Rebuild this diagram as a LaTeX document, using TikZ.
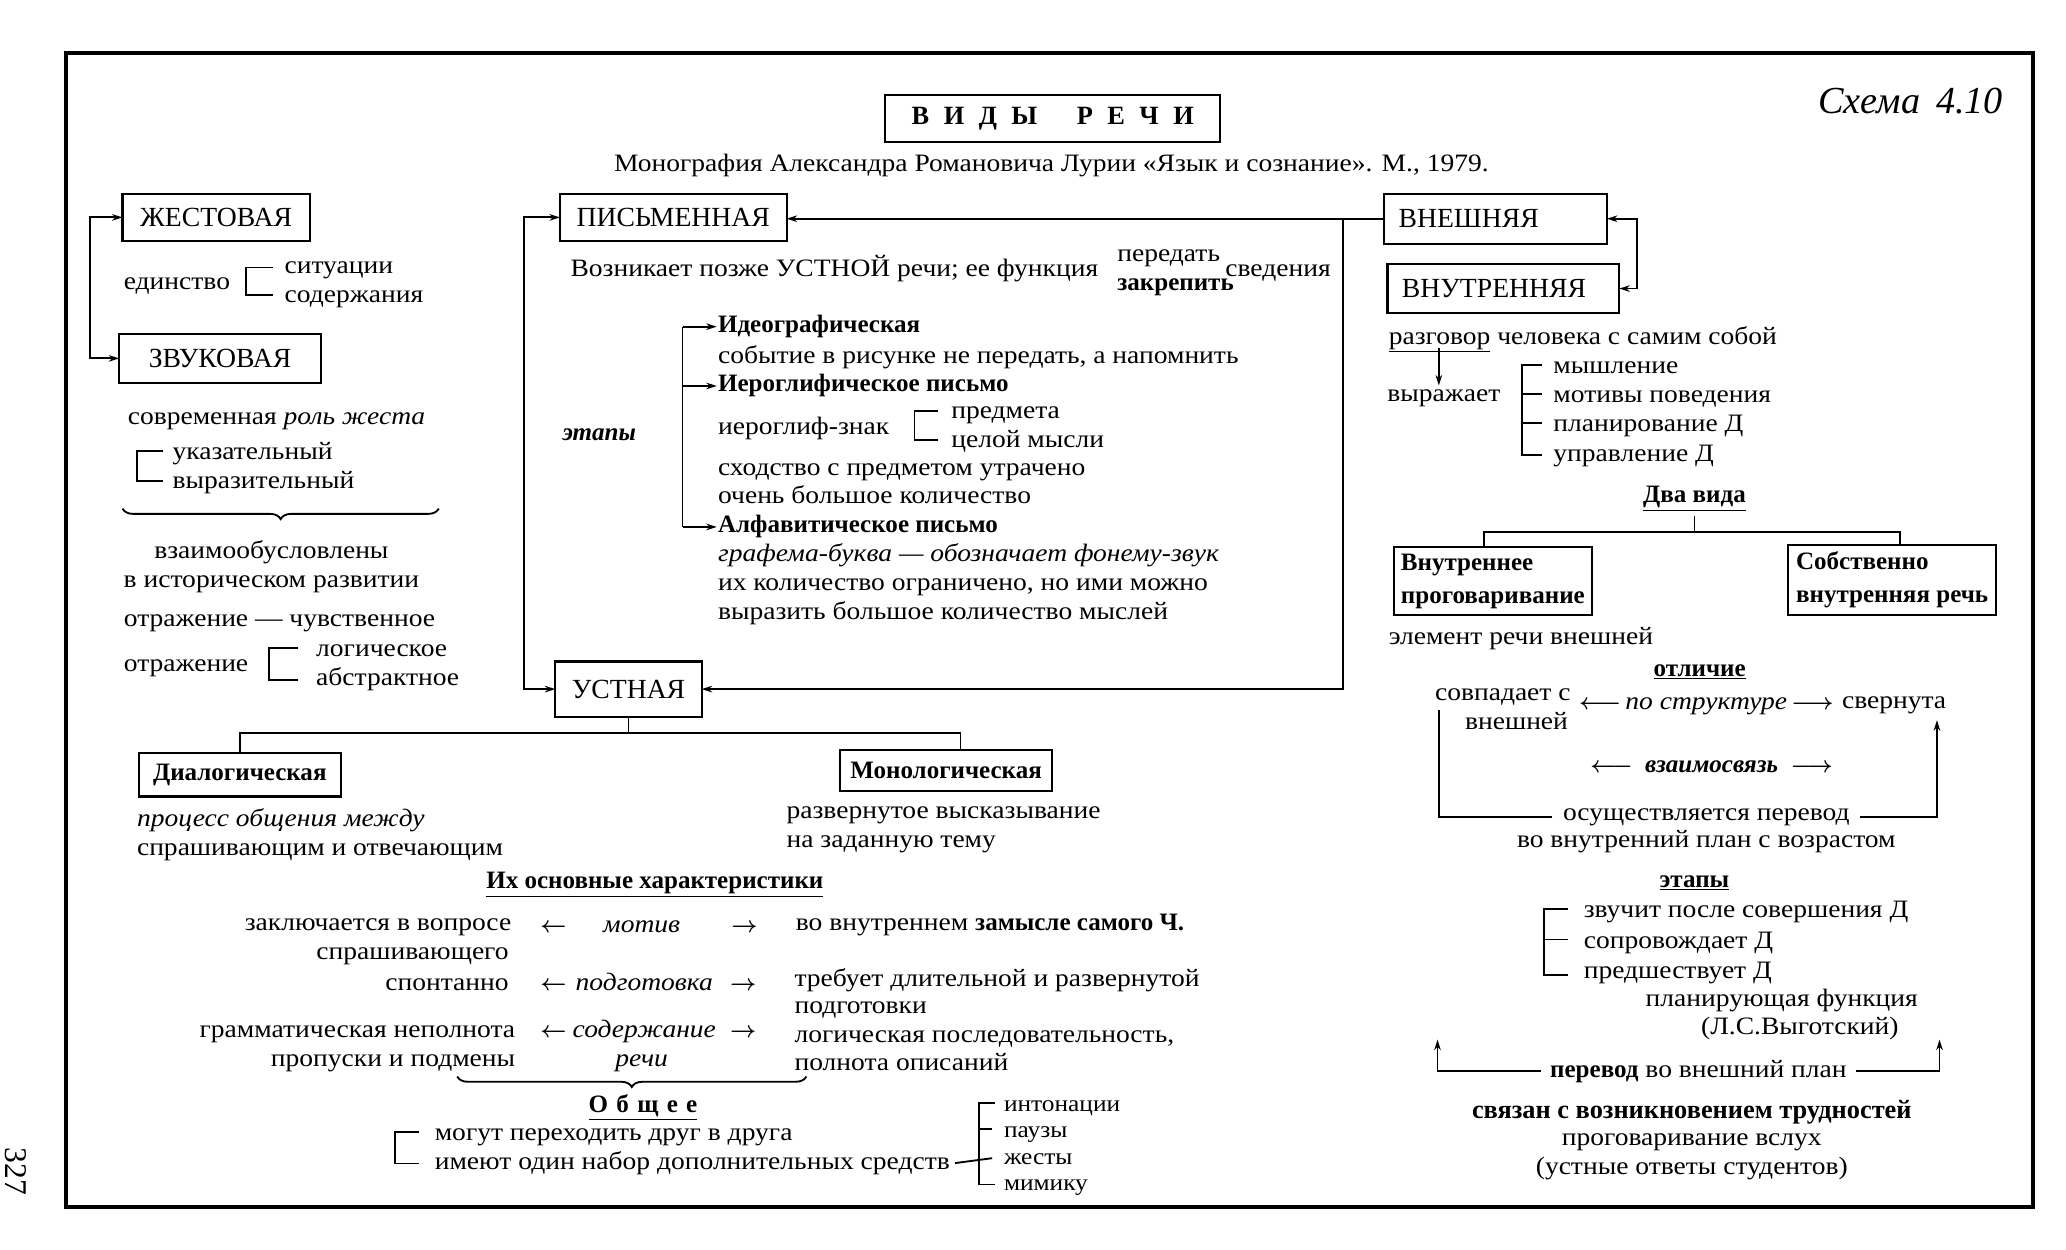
\documentclass[tikz,border=0pt]{standalone}
\usepackage{fontspec}
\setmainfont{Liberation Serif}
\newfontfamily\regf{Liberation Serif}[FakeStretch=1.1]
\usetikzlibrary{arrows.meta,decorations.pathreplacing}
\newcommand\bodyf{\regf\fontsize{19}{22}\selectfont}
\newcommand\listf{\regf\fontsize{17.5}{19}\selectfont}
\newcommand\bff{\normalfont\fontsize{19}{22}\selectfont\bfseries}
\newcommand\boxf{\fontsize{21}{24}\selectfont}
\newcommand\ls{\hspace{11pt}}
\newcommand\la{{\boldmath$\leftarrow$}}
\newcommand\ra{{\boldmath$\rightarrow$}}
\newcommand\lla{{\boldmath$\longleftarrow$}}
\newcommand\lra{{\boldmath$\longrightarrow$}}
\begin{document}
\begin{tikzpicture}[x=1pt,y=-1pt,
  every node/.style={inner sep=0pt, outer sep=0pt},
  t/.style={anchor=base west, yshift=-6.5pt, font=\bodyf},
  tc/.style={anchor=base, yshift=-6.5pt, font=\bodyf},
  tr/.style={anchor=base east, yshift=-6.5pt, font=\bodyf},
  tb/.style={anchor=base west, yshift=-6.5pt, font=\bff},
  tbc/.style={anchor=base, yshift=-6.5pt, font=\bff},
  box/.style={draw, line width=1.6pt, font=\boxf},
  lbox/.style={draw, line width=1.6pt, font=\boxf, inner xsep=11pt, align=left},
  bbox/.style={draw, line width=1.6pt, font=\bff},
  ln/.style={line width=1.4pt},
  arr/.style={ln, -{Stealth[length=8pt,width=5pt]}},
  darr/.style={ln, {Stealth[length=8pt,width=5pt]}-{Stealth[length=8pt,width=5pt]}},
  brc/.style={ln, decorate, decoration={brace, mirror, amplitude=8pt}}
]
\useasboundingbox (0,0) rectangle (1568,948);
\fill[white] (0,0) rectangle (1568,948);
% frame
\draw[line width=2.8pt] (50,40) rectangle (1543,916);
\node[font=\fontsize{24}{26}\selectfont, rotate=-90] (pn) at (12,889) {327};
% title
\node[draw, line width=1.6pt, minimum width=254pt, minimum height=36pt, font=\fontsize{20}{22}\selectfont\bfseries] (title) at (799,90) {В\ls И\ls Д\ls Ы\hspace{30pt}Р\ls Е\ls Ч\ls И};
\node[tc] (sub) at (798,124) {Монография Александра Романовича Лурии «Язык и сознание». М., 1979.};
\node[font=\fontsize{29}{31}\selectfont\itshape] (schema) at (1450,77) {Схема\, 4.10};

% ---------- left column
\node[box, minimum width=142pt, minimum height=36pt] (zhest) at (164,165) {ЖЕСТОВАЯ};
\node[box, minimum width=153pt, minimum height=37pt] (zvuk) at (167,272) {ЗВУКОВАЯ};
\draw[darr] (zhest.west) -- ++(-25,0) |- (zvuk.west);
\node[t] (edin) at (94,213) {единство};
\node[t] (sit) at (216,201) {ситуации};
\node[t] (sod) at (216,223) {содержания};
\draw[ln] (207,203) -- (187,203) -- (187,224) -- (207,224);
\node[t] (sovr) at (97,316) {современная \textit{роль жеста}};
\node[t] (ukaz) at (131,342) {указательный};
\node[t] (vyraz) at (131,364) {выразительный};
\draw[ln] (124,342) -- (104,342) -- (104,365) -- (124,365);
\draw[brc] (93,386) -- (333,386);
\node[tc] (vzaim) at (206,417) {взаимообусловлены};
\node[tc] (vist) at (206,439) {в историческом развитии};
\node[t] (otr1) at (94,469) {отражение — чувственное};
\node[t] (otr2) at (94,503) {отражение};
\node[t] (logi) at (240,492) {логическое};
\node[t] (abstr) at (240,514) {абстрактное};
\draw[ln] (226,492) -- (204,492) -- (204,516) -- (226,516);

% ---------- middle column
\node[box, minimum width=172pt, minimum height=36pt] (pism) at (511,165) {ПИСЬМЕННАЯ};
\node[box, minimum width=111pt, minimum height=42pt] (ustn) at (477,523) {УСТНАЯ};
\draw[darr] (pism.west) -- ++(-27,0) |- (ustn.west);
\node[t] (voz) at (433,203) {Возникает позже УСТНОЙ речи; ее функция};
\node[t] (pered) at (848,192) {передать};
\node[tb] (zakr) at (848,214) {закрепить};
\node[t] (sved) at (930,203) {сведения};
\node[tb, font=\bff\itshape] (etapy) at (427,328) {этапы};
\node[tb] (ideo) at (545,246) {Идеографическая};
\node[t] (sob) at (545,269) {событие в рисунке не передать, а напомнить};
\node[tb] (ierog) at (545,291) {Иероглифическое письмо};
\node[t] (iznak) at (545,323) {иероглиф-знак};
\node[t] (predm) at (722,311) {предмета};
\node[t] (celoy) at (722,333) {целой мысли};
\draw[ln] (712,312) -- (694,312) -- (694,334) -- (712,334);
\node[t] (shod) at (545,354) {сходство с предметом утрачено};
\node[t] (ochen) at (545,376) {очень большое количество};
\node[tb] (alf) at (545,398) {Алфавитическое письмо};
\node[t] (graf) at (545,420) {\textit{графема-буква — обозначает фонему-звук}};
\node[t] (ikol) at (545,442) {их количество ограничено, но ими можно};
\node[t] (vyrm) at (545,464) {выразить большое количество мыслей};
\draw[ln] ([xshift=-27]ideo.west) -- ([xshift=-27]alf.west);
\draw[arr] ([xshift=-27]ideo.west) -- ([xshift=-1]ideo.west);
\draw[arr] ([xshift=-27]ierog.west) -- ([xshift=-1]ierog.west);
\draw[arr] ([xshift=-27]alf.west) -- ([xshift=-1]alf.west);

% ---------- right column
\node[lbox, minimum width=169pt, minimum height=38pt, text width=147pt] (vnesh) at (1135,166) {ВНЕШНЯЯ};
\node[lbox, minimum width=176pt, minimum height=37pt, text width=154pt] (vnutr) at (1141,219) {ВНУТРЕННЯЯ};
\draw[darr] (vnesh.east) -- ++(23,0) |- (vnutr.east);
\draw[arr] (vnesh.west) -- (pism.east |- vnesh.west);
\coordinate (br) at (1019,166);
\draw[arr] (br) |- (ustn.east);
\node[t] (razg) at (1054,255) {\underline{разговор} человека с самим собой};
\node[t] (vyrazh) at (1053,298) {выражает};
\draw[arr] (1092,264) -- ([xshift=39,yshift=3]vyrazh.north west);
\node[t] (mysh) at (1179,277) {мышление};
\node[t] (motiv) at (1179,299) {мотивы поведения};
\node[t] (plan) at (1179,321) {планирование Д};
\node[t] (upr) at (1179,344) {управление Д};
\draw[ln] (1170,277) -- (1155,277) -- (1155,345) -- (1170,345);
\draw[ln] (1155,299) -- (1170,299);
\draw[ln] (1155,321) -- (1170,321);
\node[tbc] (dva) at (1286,375) {\underline{Два вида}};
\node[bbox, minimum width=150pt, minimum height=52pt, align=left] (vnpr) at (1133,441) {Внутреннее\\[3pt]проговаривание};
\node[bbox, minimum width=158pt, minimum height=53pt, align=left] (sobst) at (1436,440) {Собственно\\[3pt]внутренняя речь};
\draw[ln] (dva.south) ++(0,4) -- ++(0,12) coordinate (dvaj);
\draw[ln] ([xshift=-7]vnpr.north) |- (dvaj) -| ([xshift=6]sobst.north);
\node[t] (elem) at (1054,483) {элемент речи внешней};
\node[tbc] (otl) at (1290,507) {\underline{отличие}};
\node[tr] (sovp) at (1192,525) {совпадает с};
\node[tr] (vnshy) at (1190,547) {внешней};
\node[tc] (postr) at (1295,532) {\lla\,\textit{по структуре}\,\lra};
\node[t] (sver) at (1398,531) {свернута};
\node[tc] (vzs) at (1299,580) {\lla\enspace{\bff\itshape взаимосвязь}\enspace\lra};
\node[tc] (osus) at (1295,616) {осуществляется перевод};
\draw[ln] ([xshift=-8]osus.west) -| ([xshift=3,yshift=-4]sovp.south west);
\draw[arr] ([xshift=8]osus.east) -| ([xshift=-7,yshift=-5]sver.south east);
\node[tc] (vovn) at (1295,637) {во внутренний план с возрастом};
\node[tbc] (et2) at (1286,667) {\underline{этапы}};
\node[t] (zvuch) at (1202,690) {звучит после совершения Д};
\node[t] (sopr) at (1202,713) {сопровождает Д};
\node[t] (predsh) at (1202,736) {предшествует Д};
\draw[ln] (1190,690) -- (1172,690) -- (1172,740) -- (1190,740);
\draw[ln] (1172,713) -- (1190,713);
\node[t] (planf) at (1249,757) {планирующая функция};
\node[tc] (vyg) at (1366,779) {(Л.С.Выготский)};
\node[tc] (perv) at (1289,811) {{\bff перевод} во внешний план};
\coordinate (upL) at (1091,789);
\coordinate (upR) at (1472,789);
\draw[arr] ([xshift=-7]perv.west) -| (upL);
\draw[arr] ([xshift=7]perv.east) -| (upR);
\node[tc, font=\normalfont\fontsize{20}{22}\selectfont\bfseries] (svyaz) at (1284,842) {связан с возникновением трудностей};
\node[tc] (progv) at (1284,863) {проговаривание вслух};
\node[tc] (ustot) at (1284,885) {(устные ответы студентов)};

% ---------- bottom left
\node[bbox, minimum width=153pt, minimum height=33pt] (dial) at (182,588) {Диалогическая};
\node[bbox, minimum width=161pt, minimum height=31pt] (mono) at (718,585) {Монологическая};
\draw[ln] (ustn.south) -- ++(0,12) coordinate (ustj);
\draw[ln] (dial.north) |- (ustj) -| ([xshift=11]mono.north);
\node[t] (proc) at (104,621) {\textit{процесс общения между}};
\node[t] (sprash) at (104,643) {спрашивающим и отвечающим};
\node[t] (razv) at (597,615) {развернутое высказывание};
\node[t] (nazad) at (597,637) {на заданную тему};
\node[tbc] (ihos) at (497,668) {\underline{Их основные характеристики}};
\node[tr] (zakl) at (388,700) {заключается в вопросе};
\node[tr] (sprg) at (386,722) {спрашивающего};
\node[tc] (la1) at (420,701) {\la};
\node[tc] (motw) at (487,701) {\textit{мотив}};
\node[tc] (ra1) at (565,701) {\ra};
\node[t] (vovnz) at (604,700) {во внутреннем {\bff замысле самого Ч.}};
\node[tr] (spont) at (386,745) {спонтанно};
\node[tc] (la2) at (420,745) {\la};
\node[tc] (podw) at (489,745) {\textit{подготовка}};
\node[tc] (ra2) at (564,745) {\ra};
\node[t] (treb) at (603,742) {требует длительной и развернутой};
\node[t] (podg) at (603,763) {подготовки};
\node[tr] (gram) at (391,781) {грамматическая неполнота};
\node[tc] (la3) at (420,781) {\la};
\node[tc] (sodw) at (489,781) {\textit{содержание}};
\node[tc] (ra3) at (564,781) {\ra};
\node[tc] (rechw) at (487,803) {\textit{речи}};
\node[tr] (prop) at (391,803) {пропуски и подмены};
\node[t] (logp) at (603,785) {логическая последовательность,};
\node[t] (poln) at (603,806) {полнота описаний};
\draw[brc] (347,817) -- (612,817);
\node[tbc] (obsh) at (488,838) {\underline{О\,\,б\,\,щ\,\,е\,\,е}};
\node[t] (mog) at (330,859) {могут переходить друг в друга};
\node[t] (imeut) at (330,881) {имеют один набор дополнительных средств};
\draw[ln] (318,859) -- (300,859) -- (300,883) -- (318,883);
\node[t, font=\listf] (inton) at (762,837) {интонации};
\node[t, font=\listf] (pauz) at (762,857) {паузы};
\node[t, font=\listf] (zhesty) at (762,877) {жесты};
\node[t, font=\listf] (mimik) at (762,897) {мимику};
\draw[ln] (755,837) -- (743,837) -- (743,899) -- (755,899);
\draw[ln] (743,857) -- (753,857);
\draw[ln] ([xshift=4]imeut.east) -- (753,879);
\end{tikzpicture}
\end{document}
